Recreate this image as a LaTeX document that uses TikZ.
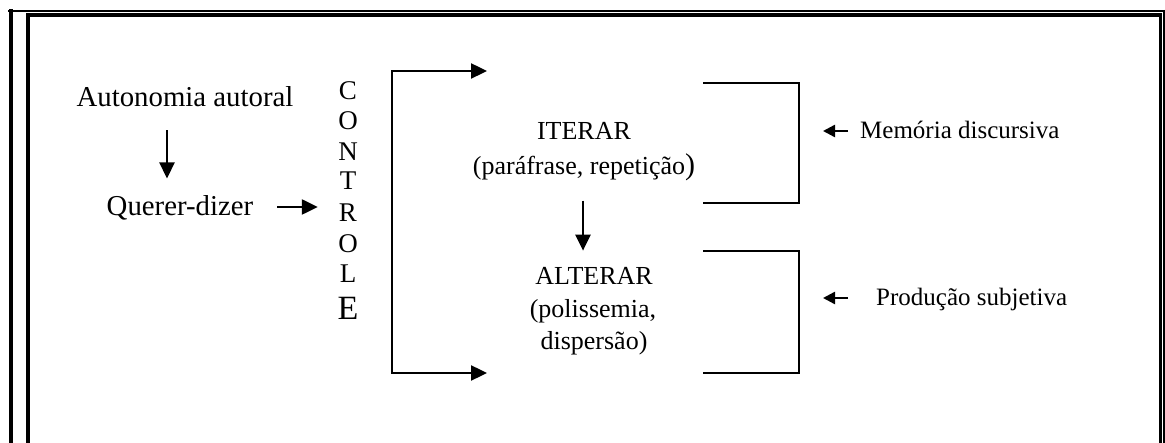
\documentclass[tikz,border=0pt]{standalone}
\usepackage{fontspec}
\setmainfont{Liberation Serif}
\usetikzlibrary{arrows.meta,calc}
\tikzset{
  txt/.style={inner sep=0pt, anchor=base},
  txtw/.style={inner sep=0pt, anchor=base west},
  big/.style={font=\fontsize{28.8}{34}\selectfont},
  mid/.style={font=\fontsize{26}{32}\selectfont},
  sml/.style={font=\fontsize{25}{30}\selectfont},
  ltr/.style={font=\fontsize{27}{30}\selectfont},
  conn/.style={line width=2.4pt},
  arr/.style={conn, -{Triangle[length=16pt,width=15pt]}},
  darr/.style={conn, {Triangle[length=16pt,width=15pt]}-{Triangle[length=16pt,width=15pt]}},
  sarr/.style={conn, -{Triangle[length=12pt,width=12pt]}},
  brk/.style={line width=2.4pt},
}
\begin{document}
\begin{tikzpicture}[x=1pt,y=-1pt]
\useasboundingbox (0,0) rectangle (1165,443);
\clip (0,0) rectangle (1165,443);
% page frame
\draw[line width=2pt] (8,10.8) -- (1165,10.8);
\draw[line width=4.4pt] (26,15.3) -- (1162,15.3);
\draw[line width=4pt] (10.5,9.5) -- (10.5,460);
\draw[line width=4pt] (28.3,13.5) -- (28.3,460);
\draw[line width=2.8pt] (1160.5,13.5) -- (1160.5,460);
\draw[line width=2.4pt] (1164,10) -- (1164,460);

% left texts
\node[txt,big] (auto) at (185,107) {Autonomia autoral};
\node[txt,big] (querer) at (180,216) {Querer-dizer};
\draw[arr] ($(auto.south)+(-18,23)$) -- ($(auto.south)+(-18,71)$);

% CONTROLE
\node[txt,ltr] (c1) at (348,100) {C};
\node[txt,ltr] (c2) at (348,130) {O};
\node[txt,ltr] (c3) at (348,161) {N};
\node[txt,ltr] (c4) at (348,190) {T};
\node[txt,ltr] (c5) at (348,222) {R};
\node[txt,ltr] (c6) at (348,253) {O};
\node[txt,ltr] (c7) at (348,283) {L};
\node[txt,font=\fontsize{34}{36}\selectfont] (c8) at (348,320) {E};
\draw[arr] ($(querer.base east)+(24,-9)$) -- ($(c5.base west)+(-21,-15)$);

% bracket with arrows
\coordinate (tT) at (487,71);
\coordinate (tB) at (487,373);
\draw[darr] (tT) -- (392,71) -- (392,373) -- (tB);

% ITERAR / ALTERAR
\node[txt,mid] (it1) at (584,140) {ITERAR};
\node[txt,mid] (it2) at (584,175) {(paráfrase, repetição{\fontsize{30}{30}\selectfont)}};
\node[txt,mid] (al1) at (594,285) {ALTERAR};
\node[txt,mid] (al2) at (593,318) {(polissemia,};
\node[txt,mid] (al3) at (594,350) {dispersão)};
\draw[arr] ($(it2.south)+(-1,19)$) -- ($(al1.north)+(-11,-17)$);

% right brackets
\draw[brk] (703,83) -- (799,83) -- (799,203) -- (703,203);
\draw[brk] (703,251) -- (799,251) -- (799,373) -- (703,373);

% right labels
\node[txtw,sml] (mem) at (860,139) {Memória discursiva};
\node[txtw,sml] (prod) at (876,306) {Produção subjetiva};
\draw[sarr] ($(mem.base west)+(-12,-8)$) -- ($(mem.base west)+(-37,-8)$);
\draw[sarr] ($(prod.base west)+(-28,-8)$) -- ($(prod.base west)+(-53,-8)$);
\end{tikzpicture}
\end{document}
